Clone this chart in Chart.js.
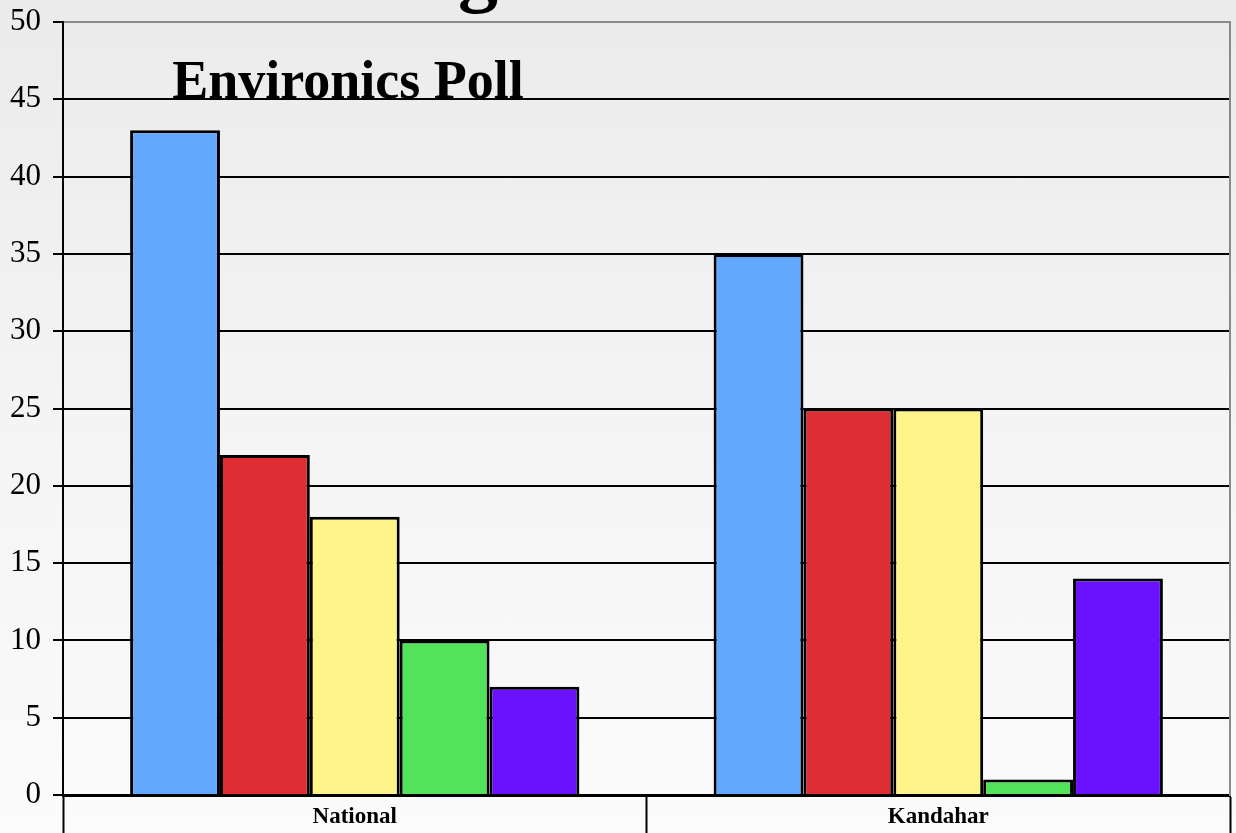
<!DOCTYPE html>
<html>
<head>
<meta charset="utf-8">
<script src="https://cdn.jsdelivr.net/npm/chart.js@4.4.1/dist/chart.umd.min.js"></script>
<style>
  html, body { margin: 0; padding: 0; }
  body {
    width: 1236px; height: 833px; overflow: hidden;
    background: linear-gradient(to bottom, #ebebeb 0%, #f4f4f4 50%, #fbfbfb 100%);
  }
  #wrap { position: relative; width: 1236px; height: 833px; }
</style>
</head>
<body>
<div id="wrap"><canvas id="chart" width="1236" height="833"></canvas></div>
<script>
// Environics Poll — two regions, five answer groups
const categories = ['National', 'Kandahar'];
const seriesNames = ['Series 1', 'Series 2', 'Series 3', 'Series 4', 'Series 5'];
const seriesValues = [
  [43, 35],
  [22, 25],
  [18, 25],
  [10, 1],
  [7, 14],
];
const seriesColors = ['#62a8fe', '#de2d33', '#fff48a', '#52e35a', '#6a12fe'];
const yTicks = [0, 5, 10, 15, 20, 25, 30, 35, 40, 45, 50];

const serif = "'Liberation Serif', 'Times New Roman', serif";

// titles drawn on top of the plot, like the original slide
const titlePlugin = {
  id: 'titles',
  afterDraw(chart) {
    const ctx = chart.ctx;
    ctx.save();
    ctx.fillStyle = '#000';
    ctx.textAlign = 'center';
    ctx.textBaseline = 'alphabetic';
    // slide heading, mostly cut off above the page
    ctx.font = 'bold 80px ' + serif;
    ctx.fillText('g', 478, -3);
    // subtitle
    ctx.font = 'bold 54px ' + serif;
    ctx.fillText('Environics Poll', 348, 98);
    ctx.restore();
  }
};

const ctx = document.getElementById('chart').getContext('2d');

new Chart(ctx, {
  type: 'bar',
  data: {
    labels: categories,
    datasets: seriesNames.map((name, i) => ({
      label: name,
      data: seriesValues[i],
      backgroundColor: seriesColors[i],
      borderColor: '#000',
      borderWidth: 3,
      borderSkipped: 'bottom',
      barPercentage: 1,
      categoryPercentage: 0.77,
    })),
  },
  options: {
    responsive: false,
    animation: false,
    layout: { padding: { top: 22, right: 0, bottom: 0, left: 0 } },
    plugins: {
      legend: { display: false },
      tooltip: { enabled: false },
    },
    scales: {
      x: {
        offset: true,
        grid: {
          offset: true,
          drawOnChartArea: false,
          drawTicks: true,
          tickLength: 40,
          tickColor: '#000',
          tickWidth: 2,
        },
        border: { display: true, color: '#000', width: 3 },
        ticks: {
          color: '#000',
          font: { family: serif, size: 23, weight: 'bold' },
          padding: -32,
        },
        afterFit(scale) { scale.height = 38; },
      },
      y: {
        min: 0,
        max: 50,
        afterBuildTicks(scale) { scale.ticks = yTicks.map(v => ({ value: v })); },
        grid: {
          color: (c) => (c.tick && c.tick.value === 50 ? '#8a8a8a' : '#000'),
          lineWidth: 2,
          tickColor: '#000',
          tickLength: 10,
          tickWidth: 2,
        },
        border: { display: true, color: '#000', width: 2 },
        ticks: {
          color: '#000',
          font: { family: serif, size: 31 },
          padding: 12,
        },
        afterFit(scale) {
          scale.width = 63;
          scale.paddingTop = 0;
          scale.paddingBottom = 0;
        },
      },
      yRight: {
        position: 'right',
        display: true,
        min: 0,
        max: 50,
        grid: { display: false, drawOnChartArea: false },
        ticks: { display: false },
        border: { display: true, color: '#8a8a8a', width: 2 },
        afterFit(scale) { scale.width = 6; },
      },
    },
  },
  plugins: [titlePlugin],
});
</script>
</body>
</html>
